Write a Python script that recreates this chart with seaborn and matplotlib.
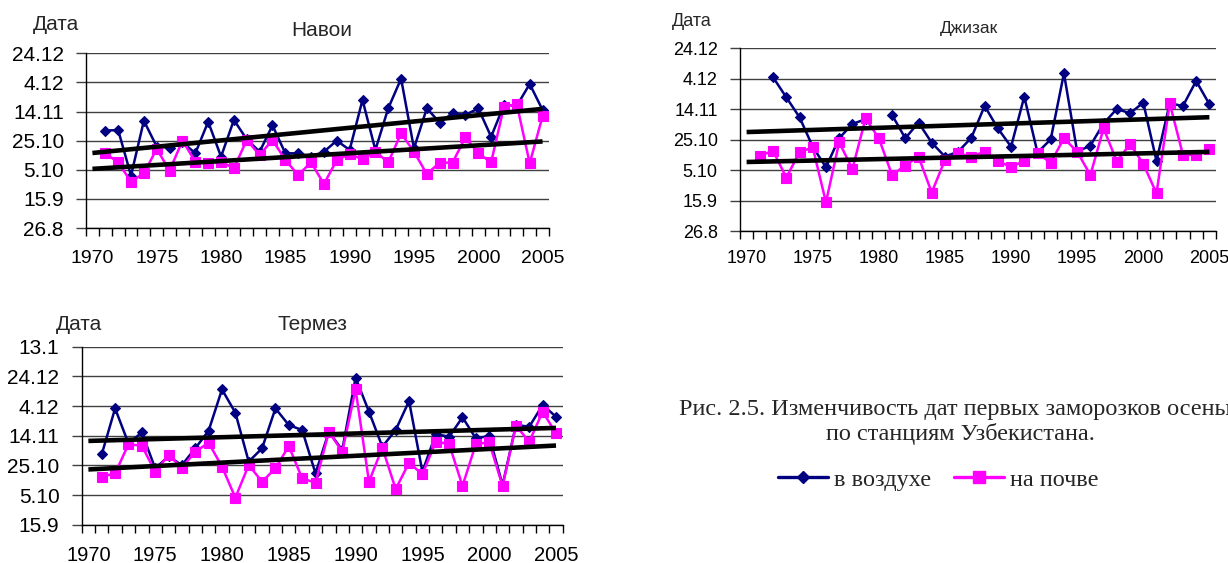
import numpy as np
import pandas as pd
import matplotlib
matplotlib.use("Agg")
import matplotlib.pyplot as plt
import seaborn as sns
from matplotlib.lines import Line2D
from matplotlib.ticker import FixedLocator

nan = np.nan
years = list(range(1970, 2006))

# first autumn frost dates, days counted from 26 August
navoi_air = [nan, 66.9, 67.3, 36.0, 73.7, 55.9, 55.2, 59.0, 51.3, 73.0, 49.0, 74.2,
             60.9, 52.4, 70.5, 51.3, 51.3, 49.0, 52.4, 60.0, 53.6, 88.0, 53.6, 82.2,
             102.6, 54.7, 82.2, 72.4, 78.8, 77.6, 82.2, 62.7, 84.5, 84.0, 98.9, 81.1]
navoi_soil = [nan, 51.3, 45.1, 31.8, 37.6, 54.3, 39.4, 60.0, 45.6, 44.4, 45.6, 41.0,
              60.5, 50.1, 60.5, 46.7, 36.4, 45.1, 30.2, 46.7, 50.8, 47.2, 52.4, 45.1,
              65.0, 52.4, 37.1, 44.9, 44.9, 62.3, 51.3, 45.1, 83.4, 85.0, 44.4, 76.9]

jizzakh_air = [nan, nan, 101.0, 87.9, 74.8, 55.5, 42.0, 61.0, 70.4, 73.5, nan, 76.3,
               61.0, 71.3, 58.1, 49.0, 52.2, 61.4, 82.2, 67.5, 55.5, 88.3, 51.6, 60.3,
               103.6, 52.2, 56.2, 70.8, 80.2, 77.4, 84.4, 46.1, 83.9, 82.2, 98.6, 83.3]
jizzakh_soil = [nan, 49.4, 52.9, 35.2, 51.8, 55.1, 19.0, 58.4, 40.9, 74.1, 61.0, 36.9,
                43.1, 49.0, 25.4, 46.8, 51.1, 49.0, 52.2, 46.3, 42.0, 46.3, 51.1, 45.0,
                61.0, 52.2, 36.9, 67.5, 45.7, 57.3, 44.2, 24.9, 83.9, 50.1, 50.1, 54.0]

termez_air = [nan, 67.4, 98.4, 74.8, 82.2, 58.0, 66.0, 60.2, 71.5, 83.4, 111.2, 95.5,
              62.5, 71.5, 98.4, 87.2, 83.8, 54.6, 82.7, 70.3, 119.1, 96.2, 72.6, 83.8,
              103.4, 55.7, 81.1, 79.3, 92.4, 78.2, 79.8, 46.7, 87.2, 86.1, 100.7, 92.8]
termez_soil = [nan, 52.4, 54.6, 74.2, 73.3, 55.7, 67.0, 58.4, 69.2, 75.3, 59.1, 38.2,
               60.2, 49.0, 58.0, 73.0, 51.2, 48.3, 82.7, 69.2, 111.2, 49.0, 71.9, 44.0,
               61.8, 53.9, 76.0, 74.4, 46.1, 74.4, 75.5, 46.1, 86.7, 76.0, 96.2, 81.6]

date_ticks_a = [0, 20, 40, 60, 80, 100, 120]
date_labels_a = ["26.8", "15.9", "5.10", "25.10", "14.11", "4.12", "24.12"]
date_ticks_b = [20, 40, 60, 80, 100, 120, 140]
date_labels_b = ["15.9", "5.10", "25.10", "14.11", "4.12", "24.12", "13.1"]
year_labels = [1970, 1975, 1980, 1985, 1990, 1995, 2000, 2005]

legend_labels = ["в воздухе", "на почве"]

AIR = "#000080"
SOIL = "#FF00FF"
W, H = 1228, 563

sns.set_theme(style="white")
plt.rcParams["font.family"] = ["Liberation Sans", "DejaVu Sans"]

fig = plt.figure(figsize=(W / 100, H / 100), dpi=100)
fig.patch.set_facecolor("white")


def px_axes(left, top, right, bottom):
    return fig.add_axes([left / W, 1 - bottom / H, (right - left) / W, (bottom - top) / H])


def draw_series(ax, values, color, marker, ms):
    df = pd.DataFrame({"year": years, "day": values})
    df["run"] = df["day"].isna().cumsum()
    df = df.dropna()
    sns.lineplot(data=df, x="year", y="day", units="run", estimator=None,
                 color=color, marker=marker, markersize=ms, markeredgecolor=color,
                 markeredgewidth=0.8, linewidth=1.8, ax=ax, legend=False, zorder=3)
    coef = np.polyfit(df["year"], df["day"], 1)
    xs = np.array([years[0], years[-1]])
    ax.plot(xs, np.polyval(coef, xs), color="black", lw=3.3,
            solid_capstyle="butt", zorder=4)


def style_axes(ax, ticks, labels, ysize, xsize, xpad):
    ax.set_xlim(1969.5, 2005.5)
    ax.set_ylim(ticks[0], ticks[-1])
    ax.yaxis.set_major_locator(FixedLocator(ticks))
    ax.set_yticklabels(labels)
    ax.set_xticks(year_labels)
    ax.set_xticklabels([str(y) for y in year_labels])
    ax.xaxis.set_minor_locator(FixedLocator(np.arange(1969.5, 2006, 1.0)))
    ax.tick_params(axis="x", which="major", length=0, pad=xpad, labelsize=xsize,
                   colors="black")
    ax.tick_params(axis="x", which="minor", length=6, width=1, color="black",
                   direction="out", bottom=True)
    ax.tick_params(axis="y", which="major", length=7, width=1, color="#404040",
                   direction="out", pad=9, labelsize=ysize, left=True,
                   labelcolor="black")
    ax.yaxis.grid(True, color="#404040", lw=1)
    ax.xaxis.grid(False)
    for side in ("top", "right"):
        ax.spines[side].set_visible(False)
    for side in ("left", "bottom"):
        ax.spines[side].set_visible(True)
        ax.spines[side].set_color("black")
        ax.spines[side].set_linewidth(1)
    ax.set_xlabel("")
    ax.set_ylabel("")
    ax.set_facecolor("white")


# Навои
ax1 = px_axes(86, 53.3, 549, 228)
draw_series(ax1, navoi_air, AIR, "D", 5.5)
draw_series(ax1, navoi_soil, SOIL, "s", 7.5)
style_axes(ax1, date_ticks_a, date_labels_a, 15, 14, 16)
fig.text(56 / W, 1 - 24 / H, "Дата", ha="center", va="center", fontsize=15)
fig.text(322 / W, 1 - 30 / H, "Навои", ha="center", va="center", fontsize=15)

# Джизак
ax2 = px_axes(740, 48.3, 1216, 231.3)
draw_series(ax2, jizzakh_air, AIR, "D", 5.5)
draw_series(ax2, jizzakh_soil, SOIL, "s", 7.5)
style_axes(ax2, date_ticks_a, date_labels_a, 13, 13, 13.5)
fig.text(692 / W, 1 - 22 / H, "Дата", ha="center", va="center", fontsize=13)
fig.text(969 / W, 1 - 29 / H, "Джизак", ha="center", va="center", fontsize=12.5)

# Термез
ax3 = px_axes(81.7, 346.7, 562.7, 524.7)
draw_series(ax3, termez_air, AIR, "D", 5.5)
draw_series(ax3, termez_soil, SOIL, "s", 7.5)
style_axes(ax3, date_ticks_b, date_labels_b, 15, 14.5, 15)
fig.text(79 / W, 1 - 325 / H, "Дата", ha="center", va="center", fontsize=15)
fig.text(312 / W, 1 - 325 / H, "Термез", ha="center", va="center", fontsize=15)

# caption and legend
serif = ["Liberation Serif", "DejaVu Serif"]
fig.text(679 / W, 1 - 410 / H,
         "Рис. 2.5. Изменчивость дат первых заморозков осенью",
         ha="left", va="center", fontsize=17.5, family=serif)
fig.text(960.5 / W, 1 - 434 / H, "по станциям Узбекистана.",
         ha="center", va="center", fontsize=17.5, family=serif)

handles = [
    Line2D([], [], color=AIR, lw=2.4, marker="D", markersize=6),
    Line2D([], [], color=SOIL, lw=2.4, marker="s", markersize=8),
]
fig.legend(handles, legend_labels, loc="center",
           bbox_to_anchor=(938.5 / W, 1 - 480 / H), ncol=2, frameon=False,
           prop={"family": serif, "size": 17.5}, handlelength=2.05,
           handletextpad=0.25, columnspacing=0.95, borderpad=0)

fig.savefig("out.png", dpi=100, facecolor="white")
